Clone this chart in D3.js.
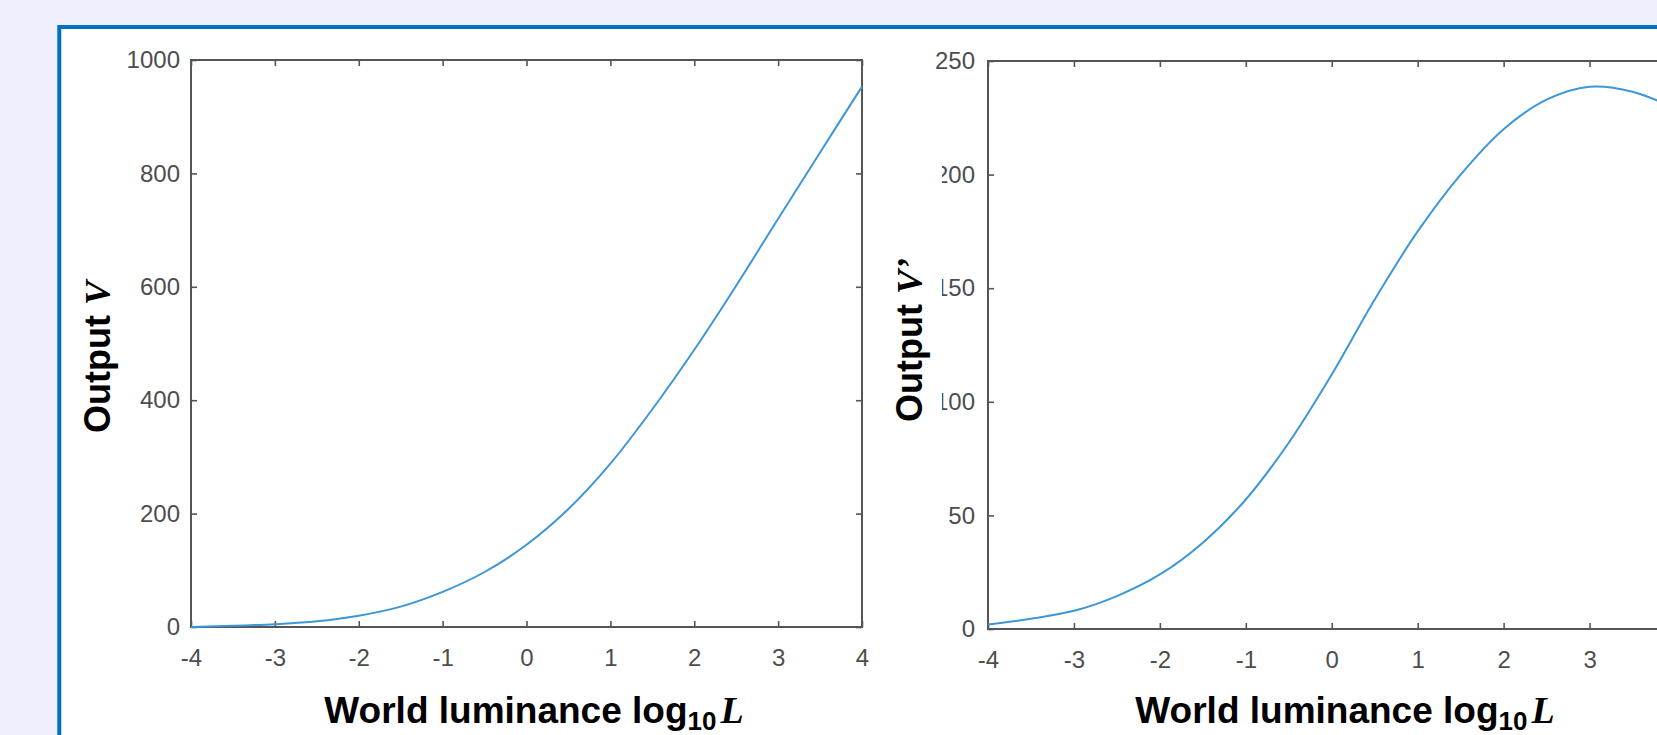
<!DOCTYPE html>
<html>
<head>
<meta charset="utf-8">
<script src="https://cdn.jsdelivr.net/npm/d3@7"></script>
<style>
  html, body { margin: 0; padding: 0; background: #eeeefc; overflow: hidden; }
</style>
</head>
<body>
<div id="chart"></div>
<script>
// values
const xTicks = [-4, -3, -2, -1, 0, 1, 2, 3, 4];
const leftYTicks = [0, 200, 400, 600, 800, 1000];
const rightYTicks = [0, 50, 100, 150, 200, 250];

const logL = [-4, -3.5, -3, -2.5, -2, -1.5, -1, -0.5, 0, 0.5, 1, 1.5, 2, 2.5, 3, 3.5, 4];
const outputV = [0, 2, 5, 10, 20, 36, 62, 97, 145, 208, 288, 384, 489, 602, 720, 837, 953];
const outputVPrime = [2, 4.5, 8, 14.5, 24, 38, 57, 82, 112, 145, 175, 200, 220, 233, 238.7, 236.5, 229];

const width = 1657;
const height = 735;
const sans = "'Liberation Sans', Arial, sans-serif";
const serif = "'Liberation Serif', 'Times New Roman', serif";
const axisColor = "#555";
const tickTextColor = "#4d4d4d";
const lineColor = "#3d97d6";

const svg = d3.select("#chart").append("svg")
  .attr("width", width)
  .attr("height", height);

// white slide panel with the blue frame
svg.append("rect")
  .attr("x", 59.3)
  .attr("y", 27)
  .attr("width", 1800)
  .attr("height", 900)
  .attr("fill", "#fff")
  .attr("stroke", "#0070c0")
  .attr("stroke-width", 4);

svg.append("defs").append("clipPath")
  .attr("id", "cut-labels")
  .append("rect")
  .attr("x", -46)
  .attr("y", -20)
  .attr("width", 60)
  .attr("height", 40);

const panels = [
  {
    values: outputV, yTicks: leftYTicks, yMax: 1000, yName: "V",
    left: 191, right: 862, top: 60, bottom: 627,
    yPad: 11, ylabX: 110, ylabY: 433, xlabX: 534, cut: false
  },
  {
    values: outputVPrime, yTicks: rightYTicks, yMax: 250, yName: "V\u2019",
    left: 988, right: 1675.5, top: 61, bottom: 629,
    yPad: 13, ylabX: 922, ylabY: 422, xlabX: 1345, cut: true
  }
];

function styleAxis(sel) {
  sel.select(".domain").remove();
  sel.selectAll(".tick line")
    .attr("stroke", axisColor)
    .attr("stroke-width", 1.6);
  sel.selectAll(".tick text")
    .attr("fill", tickTextColor)
    .style("font-family", sans)
    .style("font-size", "24px");
}

panels.forEach(p => {
  const x = d3.scaleLinear().domain([-4, 4]).range([p.left, p.right]);
  const y = d3.scaleLinear().domain([0, p.yMax]).range([p.bottom, p.top]);
  const g = svg.append("g");

  // labels that would sit past the window edge are left out, as in the source crop
  g.append("g")
    .attr("transform", `translate(0,${p.bottom})`)
    .call(d3.axisBottom(x).tickValues(xTicks).tickSizeInner(-6).tickSizeOuter(0)
      .tickPadding(22).tickFormat(d => x(d) > width - 8 ? "" : String(d)))
    .call(styleAxis);

  g.append("g")
    .attr("transform", `translate(0,${p.top})`)
    .call(d3.axisTop(x).tickValues(xTicks).tickSizeInner(-6).tickSizeOuter(0).tickFormat(""))
    .call(styleAxis);

  const yAxis = g.append("g")
    .attr("transform", `translate(${p.left},0)`)
    .call(d3.axisLeft(y).tickValues(p.yTicks).tickSizeInner(-6).tickSizeOuter(0)
      .tickPadding(p.yPad).tickFormat(d => String(d)))
    .call(styleAxis);

  // the source image crops the first digit of some right-hand labels
  if (p.cut) {
    yAxis.selectAll(".tick text")
      .filter(d => d >= 100 && d < 250)
      .attr("clip-path", "url(#cut-labels)");
  }

  g.append("g")
    .attr("transform", `translate(${p.right},0)`)
    .call(d3.axisRight(y).tickValues(p.yTicks).tickSizeInner(-6).tickSizeOuter(0).tickFormat(""))
    .call(styleAxis);

  g.append("rect")
    .attr("x", p.left)
    .attr("y", p.top)
    .attr("width", p.right - p.left)
    .attr("height", p.bottom - p.top)
    .attr("fill", "none")
    .attr("stroke", axisColor)
    .attr("stroke-width", 2);

  const line = d3.line()
    .x(d => x(d[0]))
    .y(d => y(d[1]))
    .curve(d3.curveCatmullRom.alpha(0.5));

  g.append("path")
    .datum(logL.map((v, i) => [v, p.values[i]]))
    .attr("d", line)
    .attr("fill", "none")
    .attr("stroke", lineColor)
    .attr("stroke-width", 2);

  const ylab = svg.append("text")
    .attr("transform", `translate(${p.ylabX},${p.ylabY}) rotate(-90)`)
    .style("font-family", sans)
    .style("font-weight", "bold")
    .style("font-size", "36px")
    .attr("fill", "#000");
  ylab.append("tspan").text("Output ");
  ylab.append("tspan")
    .style("font-family", serif)
    .style("font-style", "italic")
    .text(p.yName);

  const xlab = svg.append("text")
    .attr("x", p.xlabX)
    .attr("y", 723)
    .attr("text-anchor", "middle")
    .style("font-family", sans)
    .style("font-weight", "bold")
    .style("font-size", "37px")
    .attr("fill", "#000");
  xlab.append("tspan").text("World luminance log");
  xlab.append("tspan")
    .attr("dy", 7)
    .style("font-size", "26px")
    .text("10");
  xlab.append("tspan")
    .attr("dy", -7)
    .attr("dx", 4)
    .style("font-family", serif)
    .style("font-style", "italic")
    .style("font-size", "38px")
    .text("L");
});
</script>
</body>
</html>
